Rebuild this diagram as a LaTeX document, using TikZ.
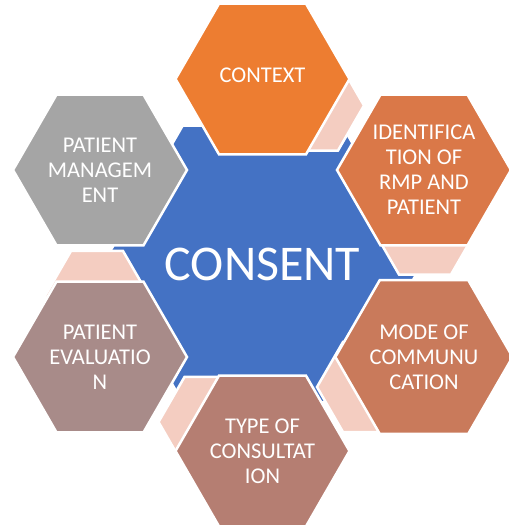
\documentclass[tikz,border=0pt]{standalone}
\usepackage{fontspec}
\setmainfont{Carlito}
\usetikzlibrary{shapes.geometric}
\definecolor{ctxorange}{HTML}{ED7D31}
\definecolor{idorange}{HTML}{DA7848}
\definecolor{modebrown}{HTML}{C97A5B}
\definecolor{typebrown}{HTML}{B57E72}
\definecolor{evalmauve}{HTML}{A88B89}
\definecolor{mgmtgray}{HTML}{A5A5A5}
\definecolor{coreblue}{HTML}{4472C4}
\definecolor{linkpink}{HTML}{F4CDC1}
\begin{document}
\begin{tikzpicture}[x=1pt,y=-1pt,
  hexbase/.style={regular polygon, regular polygon sides=6, draw=white,
    line width=2.5pt, inner sep=0pt, outer sep=0pt, text=white, align=center},
  corehex/.style={hexbase, minimum size=298pt, fill=coreblue,
    font=\fontsize{50}{56}\selectfont},
  linkhex/.style={hexbase, minimum size=104pt, fill=linkpink},
  itemhex/.style={hexbase, minimum size=174pt,
    font=\fontsize{22.5}{25}\selectfont}]
\useasboundingbox[fill=white] (0,0) rectangle (509,528);

% central hexagon
\node[corehex] (consent) at (262.5,264) {CONSENT};

% light link hexagons between neighbouring items
\node[linkhex] (linkA) at (312,105.5) {};
\node[linkhex] (linkB) at (425,229.5) {};
\node[linkhex] (linkC) at (369,387) {};
\node[linkhex] (linkD) at (210.5,422) {};
\node[linkhex] (linkE) at (97,296) {};

% surrounding items
\node[itemhex, fill=ctxorange] (context) at (262.5,79)
  {\raisebox{4pt}[\height][\depth]{CONTEXT}};
\node[itemhex, fill=idorange] (ident) at (424,170) {IDENTIFICA\\TION OF\\RMP AND\\PATIENT};
\node[itemhex, fill=modebrown] (mode) at (424,357) {MODE OF\\COMMUNU\\CATION};
\node[itemhex, fill=typebrown] (type) at (262.5,451) {TYPE OF\\CONSULTAT\\ION};
\node[itemhex, fill=evalmauve] (eval) at (100,357) {PATIENT\\EVALUATIO\\N};
\node[itemhex, fill=mgmtgray] (mgmt) at (100,170) {PATIENT\\MANAGEM\\ENT};
\end{tikzpicture}
\end{document}
